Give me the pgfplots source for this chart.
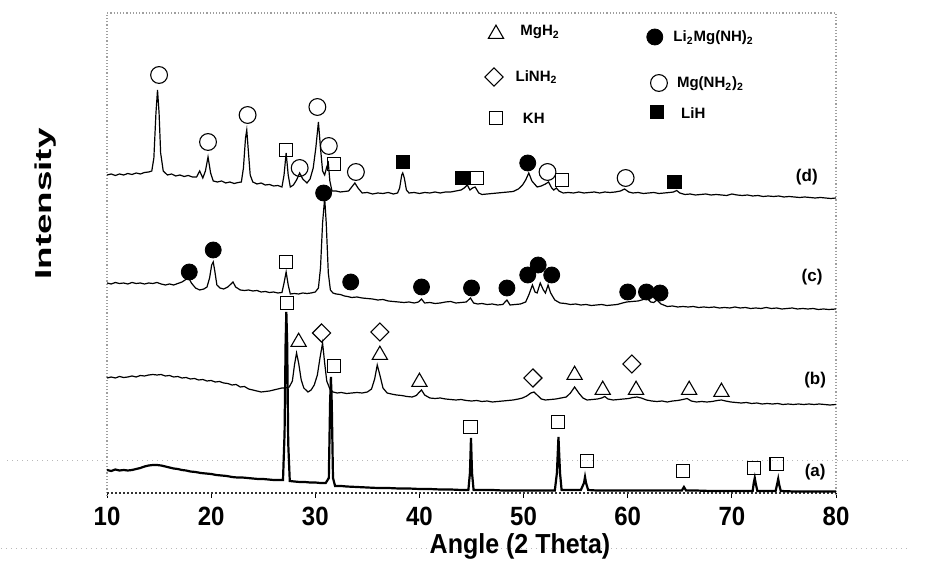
\documentclass[border=0pt]{standalone}
\usepackage{pgfplots}
\pgfplotsset{compat=1.18}
\usepackage{fontspec}
\setmainfont{Liberation Sans}
\tikzset{
  oc/.style={only marks, mark=o, mark size=4.2pt, mark options={line width=0.55pt, draw=black}},
  fc/.style={only marks, mark=*, mark size=4pt, mark options={draw=black, fill=black}},
  os/.style={only marks, mark=square, mark size=3.3pt, mark options={line width=0.55pt, draw=black}},
  fs/.style={only marks, mark=square*, mark size=3.4pt, mark options={draw=black, fill=black}},
  ot/.style={only marks, mark=triangle, mark size=4.4pt, mark options={line width=0.55pt, draw=black}},
  od/.style={only marks, mark=square, mark size=3.2pt, mark options={rotate=45, line width=0.55pt, draw=black}},
  lab/.style={font=\fontsize{8.5}{9}\selectfont\bfseries, anchor=center},
  leg/.style={font=\fontsize{7.5}{8}\selectfont\bfseries, anchor=west, inner sep=0pt},
}
\begin{document}
\begin{tikzpicture}
\begin{axis}[
  scale only axis, width=364.5pt, height=240pt,
  xmin=10, xmax=80, ymin=0, ymax=480,
  clip=false,
  axis line style={draw=none},
  xtick={10,20,...,80},
  xtick pos=bottom,
  xticklabels={\scalebox{1}[1.1]{10},\scalebox{1}[1.1]{20},\scalebox{1}[1.1]{30},\scalebox{1}[1.1]{40},\scalebox{1}[1.1]{50},\scalebox{1}[1.1]{60},\scalebox{1}[1.1]{70},\scalebox{1}[1.1]{80}},
  xticklabel style={font=\fontsize{12}{12}\selectfont\bfseries, yshift=-1pt},
  ytick=\empty,
  tick align=outside, major tick length=2.5pt,
  tick style={black, line width=0.5pt},
  xlabel={\scalebox{1}[1.1]{Angle (2 Theta)}},
  xlabel style={font=\fontsize{12.5}{13}\selectfont\bfseries, at={(axis description cs:0.5665,-0.112)}, anchor=center},
  ylabel={\scalebox{1.6}[1]{Intensity}},
  ylabel style={font=\fontsize{11.5}{12}\selectfont\bfseries, at={(axis description cs:-0.0837,0.602)}, anchor=center, rotate=0},
]
% frame
\draw[gray!75, densely dotted, line width=0.6pt] (axis cs:10,-3) -- (axis cs:10,480) -- (axis cs:80,480) -- (axis cs:80,-3);
\draw[black!80, dash pattern=on 1.2pt off 0.8pt, line width=0.6pt] (axis cs:10,0) -- (axis cs:80,0);
% stray dotted lines
\draw[gray!55, dotted, line width=0.5pt] (axis cs:0.4,32) -- (axis cs:87.1,32);
\draw[gray!55, dotted, line width=0.5pt] (axis cs:-0.2,-55) -- (axis cs:86.8,-55);
\path (axis cs:-0.275,-63) rectangle (axis cs:89.41,493);

% (d)
\addplot[black, line width=0.6pt] coordinates {(10,318)(10.4,319)(10.8,317.5)(11.2,319)(11.6,318)(12.0,319.5)(12.4,318.5)(12.8,320)(13.2,319)(13.6,320.5)(14.0,321)(14.3,322)(14.5,335)(14.7,380)(14.85,403)(15.0,380)(15.15,340)(15.4,322)(15.8,318)(16.2,319)(16.6,317)(17.0,318)(17.4,316.5)(17.8,317.5)(18.2,316)(18.6,316)(18.9,322)(19.2,315)(19.45,322)(19.7,336)(19.95,320)(20.2,312)(20.6,311)(21.0,312)(21.4,310)(21.8,311)(22.2,309.5)(22.6,310.5)(22.9,311)(23.1,325)(23.3,355)(23.42,363)(23.55,345)(23.75,318)(24.0,311)(24.4,309)(24.8,310)(25.2,308)(25.6,308.5)(26.0,307)(26.4,307.5)(26.8,306)(27.0,318)(27.2,340)(27.4,318)(27.6,306)(27.9,308)(28.2,313)(28.5,320)(28.8,314)(29.2,310)(29.5,314)(29.8,325)(30.05,345)(30.3,371)(30.5,345)(30.7,322)(30.9,318)(31.1,326)(31.25,330)(31.4,312)(31.6,302)(32.0,302)(32.4,301)(32.8,301.5)(33.2,302)(33.5,306)(33.8,310)(34.1,305)(34.5,300)(35.0,300.5)(35.5,299)(36.0,300)(36.5,299.5)(37.0,300.5)(37.5,299)(37.9,300)(38.1,305)(38.3,318)(38.4,320)(38.55,315)(38.75,303)(39.0,300)(39.5,300.5)(40.0,299.5)(40.5,300.5)(41.0,300)(41.5,301)(42.0,300)(42.5,301)(43.0,301)(43.5,302)(44.0,303)(44.3,305)(44.6,308)(44.85,303)(45.1,305)(45.35,306)(45.7,300)(46.0,298.5)(46.5,299)(47.0,299.5)(47.5,300)(48.0,300.5)(48.5,301)(49.0,301.5)(49.5,304)(49.9,308)(50.2,313)(50.5,320)(50.8,312)(51.3,306)(51.7,307)(52.1,309)(52.4,311)(52.7,305)(52.9,303)(53.15,305)(53.4,302)(53.8,300)(54.3,300.5)(54.8,300)(55.3,301)(55.8,300)(56.3,300.5)(56.8,301)(57.3,300)(57.8,301)(58.3,300.5)(58.8,301)(59.3,302)(59.7,304)(60.1,301)(60.5,300)(61.0,300.5)(61.5,299.5)(62.0,300)(62.5,300.5)(63.0,299.5)(63.5,300)(64.0,300.5)(64.4,301)(64.7,302.5)(65.0,300)(65.5,298.5)(66.0,299)(66.5,298)(67.0,298.5)(67.5,299)(68.0,298)(68.5,298.5)(69.0,298)(69.5,297.5)(70.0,299)(70.5,298)(71.0,297.5)(71.5,298)(72.0,297)(72.5,297.5)(73.0,296.5)(73.5,297)(74.0,296.5)(74.5,297)(75.0,296)(75.5,296.5)(76.0,296)(76.5,295.5)(77.0,296)(77.5,295.5)(78.0,295)(78.5,295.5)(79.0,295)(79.5,294.5)(80,295)};
% (c)
\addplot[black, line width=0.6pt] coordinates {(10,210)(10.4,209)(10.8,210.5)(11.2,209.5)(11.6,210)(12.0,209)(12.4,210.5)(12.8,209.5)(13.2,210)(13.6,209)(14.0,210)(14.4,209.5)(14.8,210.5)(15.2,209)(15.6,208)(16.0,209)(16.4,208)(16.8,209.5)(17.2,211)(17.5,213)(17.8,216)(18.1,210)(18.5,205)(18.9,203)(19.3,204)(19.6,206)(19.85,215)(20.05,228)(20.2,231)(20.35,222)(20.55,208)(20.85,205)(21.2,204)(21.6,206)(21.9,209)(22.1,211)(22.35,206)(22.8,203)(23.2,202.5)(23.6,203)(24.0,202)(24.4,202.5)(24.8,201)(25.2,201.5)(25.6,200.5)(26.0,201)(26.4,200)(26.8,200.5)(27.0,210)(27.2,221)(27.4,208)(27.6,199)(28.0,199.5)(28.4,199)(28.8,200)(29.2,199.5)(29.6,200)(30.0,201)(30.3,205)(30.5,225)(30.7,270)(30.9,295)(31.05,270)(31.25,220)(31.45,203)(31.7,200)(32.0,199)(32.4,198.5)(32.8,197)(33.1,196.5)(33.5,195.5)(34.0,196)(34.5,195)(35.0,194.5)(35.5,194)(36.0,193)(36.5,193.5)(37.0,192)(37.5,191.5)(38.0,191)(38.5,190.5)(39.0,191)(39.5,190)(39.9,191)(40.2,194)(40.5,190)(41.0,190.5)(41.5,189.5)(42.0,190)(42.5,191)(43.0,191.5)(43.5,190)(44.0,190.5)(44.5,191)(44.9,195)(45.2,190)(45.6,189)(46.0,189.5)(46.5,188.5)(47.0,189)(47.5,188)(48.0,188.5)(48.4,193)(48.7,188)(49.2,188.5)(49.7,189)(50.2,191)(50.5,198)(50.85,208)(51.1,201)(51.3,200)(51.6,210)(51.9,203)(52.1,200)(52.35,208)(52.6,200)(53.0,193)(53.5,190)(54.0,189.5)(54.5,188.5)(55.0,189)(55.5,188)(56.0,188.5)(56.5,187.5)(57.0,188)(57.5,188.5)(58.0,187.5)(58.5,188)(59.0,188.5)(59.5,190)(59.9,191)(60.4,191.5)(61.0,192)(61.5,193.5)(61.85,195)(62.2,191)(62.5,190.5)(62.8,193)(63.2,189)(63.8,186.5)(64.3,187)(64.8,186)(65.3,186.5)(65.8,186)(66.3,186.5)(66.8,185.5)(67.3,186)(67.8,185.5)(68.3,186)(68.8,185)(69.3,185.5)(69.8,185)(70.3,186)(70.8,185)(71.3,185.5)(71.8,184.5)(72.3,185)(72.8,184.5)(73.3,185.5)(73.8,184.5)(74.3,185)(74.8,184)(75.3,184.5)(75.8,185)(76.3,184)(76.8,184.5)(77.3,184)(77.8,184.5)(78.3,183.5)(78.8,184)(79.3,183.5)(80,184)};
% (b)
\addplot[black, line width=0.6pt] coordinates {(10,115)(10.4,116)(10.8,115)(11.2,116.5)(11.6,115.5)(12.0,116)(12.4,117)(12.8,116)(13.2,117.5)(13.6,117)(14.0,118)(14.4,118.5)(14.8,118)(15.2,118.5)(15.6,117)(16.0,117.5)(16.4,116)(16.8,116.5)(17.2,115)(17.6,115.5)(18.0,114)(18.4,114.5)(18.8,113)(19.2,113.5)(19.6,112)(20.0,112.5)(20.4,111)(20.8,111.5)(21.2,110)(21.6,109.5)(22.0,108)(22.4,108.5)(22.8,106)(23.2,106.5)(23.6,104)(24.0,103)(24.4,102)(24.8,101)(25.2,101.5)(25.6,102)(26.0,103)(26.4,104)(26.8,105)(27.1,105)(27.5,106)(27.8,112)(28.0,128)(28.2,140)(28.4,130)(28.65,113)(28.9,105)(29.3,101)(29.6,103)(29.9,108)(30.2,118)(30.45,135)(30.7,150)(30.9,130)(31.1,112)(31.4,104)(31.7,101)(32.1,100)(32.5,100.5)(33.0,99.5)(33.5,100)(34.0,100.5)(34.5,100)(35.0,101)(35.4,104)(35.7,114)(35.95,128)(36.2,118)(36.5,105)(36.9,100)(37.3,99)(37.8,98)(38.3,97.5)(38.8,96.5)(39.3,96)(39.7,97.5)(40.0,101)(40.2,103)(40.5,98)(41.0,95)(41.5,94.5)(42.0,95)(42.5,94)(43.0,93.5)(43.5,93)(44.0,93.5)(44.5,92.5)(45.0,92)(45.5,92.5)(46.0,91.5)(46.5,92)(47.0,91)(47.5,91.5)(48.0,92)(48.5,92.5)(49.0,93)(49.5,94)(49.9,95)(50.3,97)(50.7,100)(51.0,101)(51.3,98)(51.7,94)(52.1,93)(52.6,93.5)(53.1,94)(53.6,95)(54.1,96)(54.5,100)(54.9,106)(55.3,100)(55.7,95)(56.1,93)(56.6,93.5)(57.1,94)(57.5,95)(57.8,96.5)(58.1,94)(58.6,93)(59.1,93.5)(59.6,94)(60.1,94.5)(60.5,95.5)(60.9,96)(61.3,95)(61.8,93)(62.3,92)(62.8,91.5)(63.3,92)(63.8,91)(64.3,92)(64.8,92.5)(65.3,93.5)(65.7,94.5)(66.1,92)(66.6,91)(67.1,91.5)(67.6,91)(68.1,91.5)(68.6,92.5)(69.0,93)(69.4,92)(69.9,91)(70.4,90.5)(70.9,90)(71.4,90.5)(71.9,89.5)(72.4,90)(72.9,89)(73.4,89.5)(73.9,89)(74.4,89.5)(74.9,88.5)(75.4,89)(75.9,88.5)(76.4,89)(76.9,88.5)(77.4,89)(77.9,88.5)(78.4,89)(78.9,88.5)(79.4,88)(80,88.5)};
% (a)
\addplot[black, line width=1.1pt] coordinates {(10,23)(10.4,22)(10.8,23.5)(11.2,22.5)(11.6,23)(12.0,22.5)(12.4,23)(12.8,24)(13.2,25)(13.6,26.5)(14.0,27.5)(14.4,28)(14.8,28)(15.2,27.5)(15.6,26.5)(16.0,25.5)(16.4,24.5)(16.8,24)(17.2,23)(17.6,22.5)(18.0,21.5)(18.5,21)(19.0,20)(19.5,19.5)(20.0,19)(20.5,18)(21.0,17.5)(21.5,17)(22.0,16)(22.5,15.5)(23.0,15.5)(23.5,15)(24.0,14.5)(24.5,14)(25.0,14)(25.5,13.5)(26.0,13)(26.5,13)(26.9,13)(27.05,60)(27.15,150)(27.22,181)(27.3,150)(27.4,50)(27.55,12)(28.0,11.5)(28.5,11)(29.0,11)(29.5,10.5)(30.0,10.5)(30.5,10)(31.0,10)(31.3,15)(31.42,90)(31.5,116)(31.58,90)(31.7,15)(31.9,7)(32.5,7)(33.0,6.5)(34.0,6)(35.0,5.5)(36.0,5)(37.0,5)(38.0,4.5)(39.0,4.5)(40.0,4)(41.0,4)(42.0,3.5)(43.0,3.5)(44.0,3)(44.7,3)(44.85,20)(44.95,55)(45.05,20)(45.2,3)(46.0,3)(47.0,3)(48.0,2.5)(49.0,2.5)(50.0,2.5)(51.0,2.5)(52.0,2.5)(53.0,2.5)(53.2,20)(53.35,56)(53.5,20)(53.65,3)(54.5,3)(55.5,3)(55.8,10)(55.9,16)(56.0,10)(56.2,3)(57.0,2.5)(58.0,2.5)(59.0,2.5)(60.0,2.5)(61.0,2.5)(62.0,2.5)(63.0,2.5)(64.0,2.5)(65.2,2.5)(65.4,6)(65.6,2.5)(66.5,2.5)(68.0,2)(69.0,2)(70.0,2)(71.0,2)(72.0,2)(72.1,10)(72.2,15)(72.3,9)(72.45,2)(73.5,2)(74.2,2)(74.35,9)(74.45,14)(74.55,8)(74.7,2)(76.0,1.5)(77.0,1.5)(78.0,1.5)(79.0,1.5)(80,1.5)};

% markers (d)
\addplot[oc] coordinates {(15.0,418)(19.7,351)(23.5,378)(28.5,325)(30.2,386)(31.3,347)(33.9,321)(52.3,321)(59.8,315)};
\addplot[os] coordinates {(27.2,343)(31.8,329)(45.5,315)(53.7,313)};
\addplot[fs] coordinates {(38.4,331)(44.1,315)(64.5,311)};
\addplot[fc] coordinates {(50.4,330)};
% markers (c)
\addplot[fc] coordinates {(17.9,221)(20.2,243)(30.8,300)(33.4,211)(40.2,206)(45.0,205)(48.4,205)(50.4,218)(51.4,228)(52.7,218)(60.0,201)(61.8,201)(63.1,200)};
\addplot[os] coordinates {(27.2,231)};
% markers (b)
\addplot[ot] coordinates {(28.4,151)(36.2,138)(40.0,111)(54.9,118)(57.6,103)(60.8,103)(65.9,103)(69.0,101)};
\addplot[od] coordinates {(30.6,160)(36.2,161)(50.9,115)(60.4,129)};
\addplot[os] coordinates {(31.8,127)};
% markers (a)
\addplot[os] coordinates {(27.3,190)(44.9,66)(53.3,71)(56.1,32)(65.3,22)(72.1,25)(74.3,29)};

% series labels
\node[lab] at (axis cs:77.2,316) {(d)};
\node[lab] at (axis cs:77.7,216) {(c)};
\node[lab] at (axis cs:78.0,113) {(b)};
\node[lab] at (axis cs:78.0,21) {(a)};

% legend
\addplot[ot] coordinates {(47.35,459)};
\addplot[od] coordinates {(47.16,416)};
\addplot[os] coordinates {(47.35,375)};
\addplot[fc] coordinates {(62.6,456)};
\addplot[oc] coordinates {(63.0,410)};
\addplot[fs] coordinates {(62.8,381)};
\node[leg] at (axis cs:49.66,461) {MgH\textsubscript{2}};
\node[leg] at (axis cs:49.2,416) {LiNH\textsubscript{2}};
\node[leg] at (axis cs:49.9,375) {KH};
\node[leg] at (axis cs:64.35,455) {Li\textsubscript{2}Mg(NH)\textsubscript{2}};
\node[leg] at (axis cs:64.7,409) {Mg(NH\textsubscript{2})\textsubscript{2}};
\node[leg] at (axis cs:65.1,380) {LiH};
\end{axis}
\end{tikzpicture}
\end{document}
